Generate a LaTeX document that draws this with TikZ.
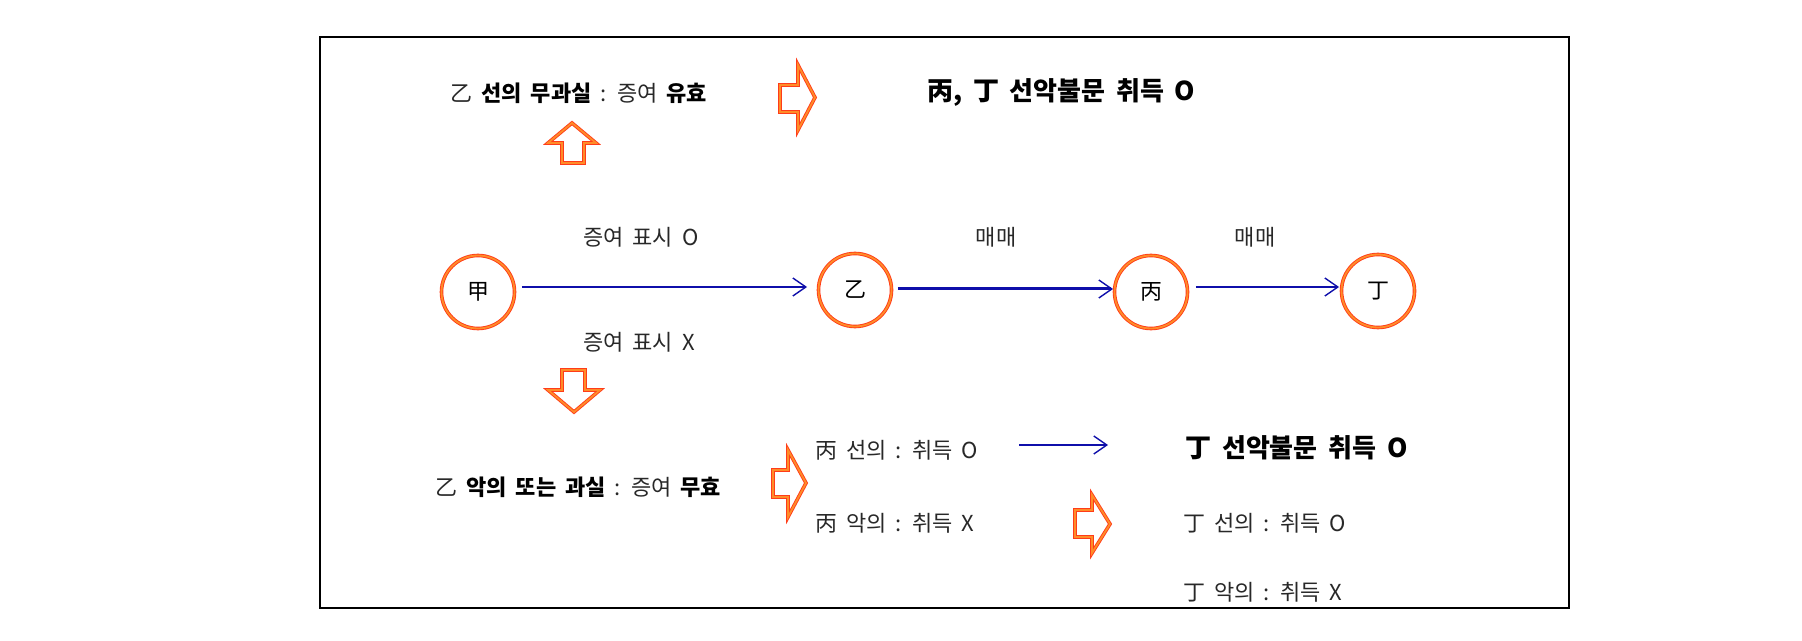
\documentclass[tikz,border=0pt]{standalone}
\usepackage{fontspec}
\setmainfont{Noto Sans CJK KR}[WordSpace=1.8]
\usetikzlibrary{arrows.meta,calc}
\definecolor{frameorange}{RGB}{255,60,25}
\definecolor{innerorange}{RGB}{255,140,40}
\definecolor{linkblue}{RGB}{15,15,170}
\definecolor{txtgray}{RGB}{40,40,40}
\tikzset{
  orangeline/.style={draw=frameorange, double=innerorange, line width=0.45pt, double distance=0.9pt, line join=miter},
  party/.style={circle, orangeline, fill=white, minimum size=36.5pt, inner sep=0pt, font=\fontsize{11}{13}\selectfont, text=black},
  txt/.style={inner sep=0pt, anchor=west, font=\fontsize{11}{13}\selectfont, text=txtgray},
  bigtxt/.style={inner sep=0pt, anchor=west, font=\fontsize{13}{15}\selectfont\bfseries, text=black},
  link/.style={draw=linkblue, line width=0.8pt, -{Straight Barb[length=6.5pt,width=9pt,line width=0.7pt]}},
  blockarrow/.style={orangeline, fill=white}
}
\begin{document}
\begin{tikzpicture}[x=0.5pt,y=-0.5pt]
\useasboundingbox (0,0) rectangle (1802,641);
\draw[line width=1pt, black] (320,37.5) rectangle (1569,608);

% circles
\node[party] (jia) at (478,292) {甲};
\node[party] (yi) at (855,290) {乙};
\node[party] (bing) at (1151,292) {丙};
\node[party] (ding) at (1378,291) {丁};

% connectors
\draw[link] ($(jia.east)+(7,-5)$) -- ($(yi.west)+(-11,-3)$);
\draw[link, line width=1.5pt] ($(yi.east)+(6,-1)$) -- ($(bing.west)+(-1,-3)$);
\draw[link] ($(bing.east)+(8,-5)$) -- ($(ding.west)+(-2,-4)$);

% labels
\node[txt] (l1) at (583,237) {증여 표시 O};
\node[txt] (l2) at (583,342) {증여 표시 X};
\node[txt, anchor=center] (l3) at (996,237) {매매};
\node[txt, anchor=center] (l4) at (1255,237) {매매};

% top texts
\node[txt] (t1) at (450,93) {乙 {\bfseries\color{black}선의 무과실} : 증여 {\bfseries\color{black}유효}};
\node[bigtxt] (t2) at (927,92) {丙, 丁 선악불문 취득 O};

% bottom texts
\node[txt] (t3) at (435,487) {乙 {\bfseries\color{black}악의 또는 과실} : 증여 {\bfseries\color{black}무효}};
\node[txt] (p1) at (815,450) {丙 선의 : 취득 O};
\node[txt] (p2) at (815,523) {丙 악의 : 취득 X};
\node[bigtxt] (q1) at (1185,448) {丁 선악불문 취득 O};
\node[txt] (q2) at (1183,523) {丁 선의 : 취득 O};
\node[txt] (q3) at (1183,592) {丁 악의 : 취득 X};

\coordinate (a1) at (1019,445);
\coordinate (a2) at (1108,445);
\draw[link] (a1) -- (a2);

% block arrows
\draw[blockarrow] (780,85) -- (798,85) -- (798,65) -- (815,97.5) -- (798,130) -- (798,112) -- (780,112) -- cycle;
\draw[blockarrow] (562,163) -- (562,143) -- (548,143) -- (572,123) -- (596,143) -- (584,143) -- (584,163) -- cycle;
\draw[blockarrow] (562,370) -- (585,370) -- (585,390) -- (600,390) -- (574,412) -- (548,390) -- (562,390) -- cycle;
\draw[blockarrow] (773,470) -- (788,470) -- (788,450) -- (806,483) -- (788,517) -- (788,497) -- (773,497) -- cycle;
\draw[blockarrow] (1075,510) -- (1092,510) -- (1092,495) -- (1110,524) -- (1092,553) -- (1092,537) -- (1075,537) -- cycle;
\end{tikzpicture}
\end{document}
